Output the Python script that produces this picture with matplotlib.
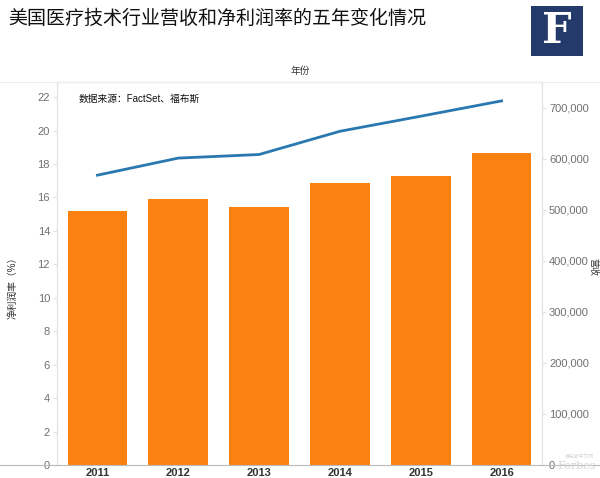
import matplotlib
matplotlib.use("Agg")
import matplotlib.pyplot as plt
from matplotlib import ticker
from matplotlib.patches import Rectangle

plt.rcParams['font.family'] = ['Liberation Sans', 'Noto Sans CJK SC', 'DejaVu Sans']

years = ['2011', '2012', '2013', '2014', '2015', '2016']
margin = [15.2, 15.9, 15.45, 16.85, 17.25, 18.65]          # 净利润率 (%)
revenue = [567500, 601000, 608000, 653500, 683000, 713000]  # 营收

bar_color = '#fb8212'
line_color = '#2a78b0'
grid_grey = '#e2e2e2'
tick_grey = '#707070'

fig = plt.figure(figsize=(6, 4.78), dpi=100)
fig.patch.set_facecolor('white')

ax = fig.add_axes([57/600, 13/478, 485/600, 383/478])
ax2 = ax.twinx()

x = range(len(years))
ax.bar(x, margin, width=0.74, color=bar_color, zorder=2)
ax2.plot(x, revenue, color=line_color, linewidth=2, zorder=3)

ax.set_xlim(-0.5, 5.5)
ax.set_ylim(0, 22.9)
ax2.set_ylim(0, 750000)

ax.set_yticks(range(0, 23, 2))
ax2.set_yticks(range(0, 700001, 100000))
ax2.yaxis.set_major_formatter(ticker.FuncFormatter(lambda v, p: '{:,.0f}'.format(v)))

ax.set_xticks(list(x))
ax.set_xticklabels(years, fontsize=8, fontweight='bold', color='#333333')
ax.tick_params(axis='x', length=0, pad=2)
ax.tick_params(axis='y', labelsize=8, labelcolor=tick_grey, color=grid_grey, length=3, pad=2)
ax2.tick_params(axis='y', labelsize=8, labelcolor=tick_grey, color=grid_grey, length=3, pad=2)

for a in (ax, ax2):
    a.spines['top'].set_color(grid_grey)
    a.spines['left'].set_color(grid_grey)
    a.spines['right'].set_color(grid_grey)
    a.spines['bottom'].set_visible(False)

# bottom baseline spanning the whole width
fig.add_artist(plt.Line2D([0, 1], [13/478, 13/478], color='#bbbbbb', linewidth=0.8))
# top border line
fig.add_artist(plt.Line2D([0, 1], [1 - 82/478, 1 - 82/478], color='#eeeeee', linewidth=0.8))

# title
fig.text(8/600, 1 - 19/478, '美国医疗技术行业营收和净利润率的五年变化情况',
         fontsize=13.7, color='#111111', va='center', ha='left')

# Forbes logo
fig.add_artist(Rectangle((531/600, 1 - 56/478), 52/600, 50/478,
                         transform=fig.transFigure, facecolor='#243a6a', edgecolor='none'))
fig.text(557/600, 1 - 31/478, 'F', fontsize=30, fontweight='bold', family='DejaVu Serif',
         color='white', ha='center', va='center')

# axis titles
fig.text(300/600, 1 - 71/478, '年份', fontsize=7, color='#333333', ha='center', va='center')
fig.text(13/600, 1 - 285/478, '净利润率（%）', fontsize=7, color='#333333',
         rotation=90, ha='center', va='center')
fig.text(593/600, 1 - 267/478, '营收', fontsize=6.5, color='#333333',
         rotation=-90, ha='center', va='center')

# source note
ax.text(0.045, 0.955, '数据来源：FactSet、福布斯', transform=ax.transAxes,
        fontsize=7, color='#111111', ha='left', va='center')

# watermark
fig.text(596/600, 1 - 466/478, 'Forbes', fontsize=8, family='DejaVu Serif',
         color='#d6d6d6', ha='right', va='center')
fig.text(594/600, 1 - 456/478, '福布斯中文网', fontsize=3.5, color='#d6d6d6',
         ha='right', va='center')

fig.savefig('out.png', dpi=100, facecolor='white')
